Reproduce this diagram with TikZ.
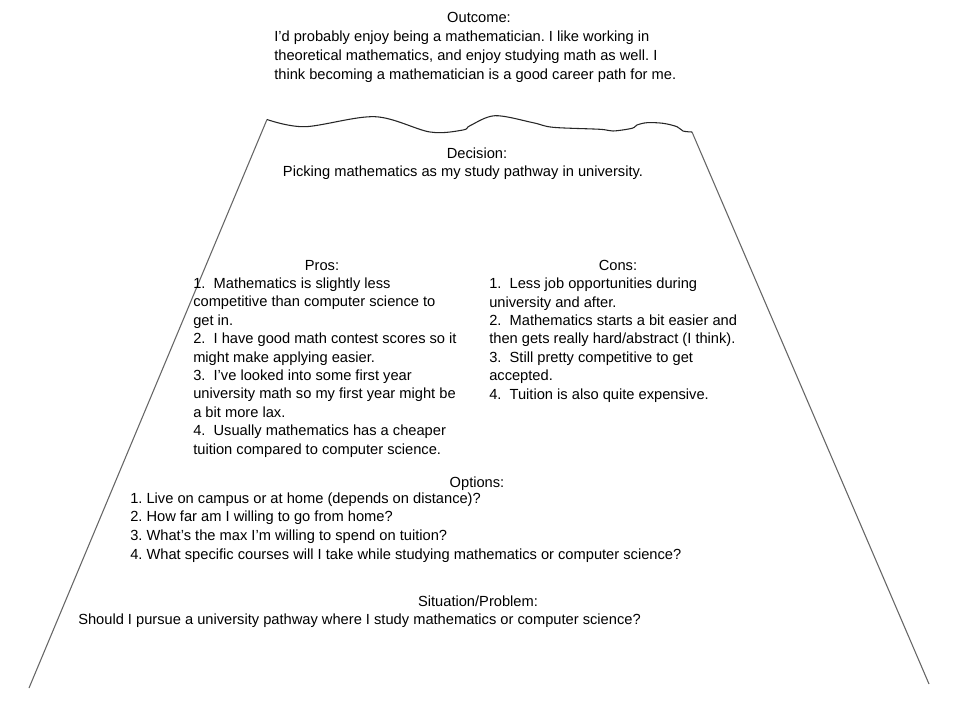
\documentclass[tikz,border=0pt]{standalone}
\usepackage{fontspec}
\setmainfont{Liberation Sans}
\begin{document}
\frenchspacing
\begin{tikzpicture}[x=0.75pt,y=-0.75pt,
  txt/.style={inner sep=0pt, font=\fontsize{11}{#1}\selectfont, align=left, text=black, anchor=base west},
  txt/.default=13.8pt,
  hdr/.style={inner sep=0pt, font=\fontsize{11}{14}\selectfont, text=black, anchor=base},
  side/.style={draw=black!60, line width=0.8pt},
  wave/.style={draw=black!85, line width=0.8pt}]
\useasboundingbox[fill=white] (0,0) rectangle (960,720);
\coordinate (tl) at (267,119.5);
\coordinate (tr) at (692,132);
\coordinate (bl) at (29,688);
\coordinate (br) at (929,684);
% frame
\draw[side] (tl) -- (bl);
\draw[side] (tr) -- (br);
\draw[wave] plot[smooth, tension=0.55] coordinates {(tl) (305,126.7) (375,116.7) (430,132) (463,130) (470,125.7) (495,115.7) (533,122.7) (553,127.3) (600,129.3) (613,131) (632,128.3) (637,125) (647,122.7) (663,123.3) (677,126.7) (683,131) (tr)};
% outcome (base anchor = last line)
\node[hdr] (outh) at (479,23) {Outcome:};
\node[txt=14.25pt] (outt) at (274,80) {I’d probably enjoy being a mathematician. I like working in\\theoretical mathematics, and enjoy studying math as well. I\\think becoming a mathematician is a good career path for me.};
% decision
\node[hdr] (dech) at (477,159) {Decision:};
\node[hdr] (dect) at (463,177) {Picking mathematics as my study pathway in university.};
% pros
\node[hdr] (prosh) at (322,270.5) {Pros:};
\node[txt] (prost) at (193,454) {1.\ \ Mathematics is slightly less\\competitive than computer science to\\get in.\\2.\ \ I have good math contest scores so it\\might make applying easier.\\3.\ \ I’ve looked into some first year\\university math so my first year might be\\a bit more lax.\\4.\ \ Usually mathematics has a cheaper\\tuition compared to computer science.};
% cons
\node[hdr] (consh) at (618,270.5) {Cons:};
\node[txt] (const) at (489,399) {1.\ \ Less job opportunities during\\university and after.\\2.\ \ Mathematics starts a bit easier and\\then gets really hard/abstract (I think).\\3.\ \ Still pretty competitive to get\\accepted.\\4.\ \ Tuition is also quite expensive.};
% options
\node[hdr] (opth) at (477,487) {Options:};
\node[txt=14pt] (optt) at (130,559) {1. Live on campus or at home (depends on distance)?\\2. How far am I willing to go from home?\\3. What’s the max I’m willing to spend on tuition?\\4. What specific courses will I take while studying mathematics or computer science?};
% situation
\node[hdr] (sith) at (478,606) {Situation/Problem:};
\node[txt] (sitt) at (78,624) {Should I pursue a university pathway where I study mathematics or computer science?};
\end{tikzpicture}
\end{document}
